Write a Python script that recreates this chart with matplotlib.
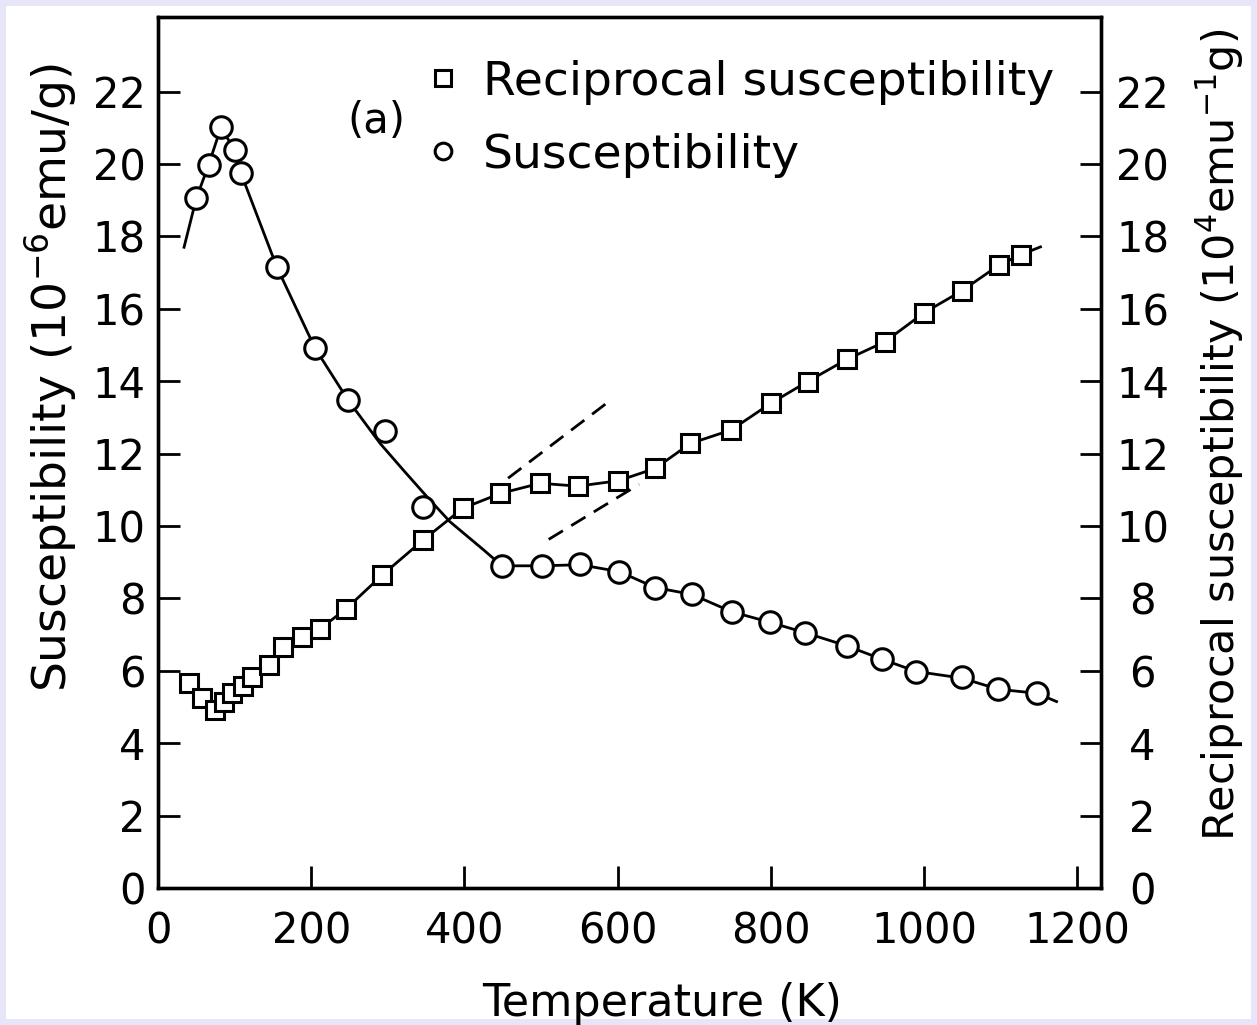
import matplotlib
matplotlib.use("Agg")
import matplotlib.pyplot as plt
from matplotlib.lines import Line2D
from matplotlib.patches import Rectangle

# ---- data ----
chi_T = [50, 66, 82, 100, 108, 155, 205, 248, 296, 346, 449, 501, 551, 602,
         649, 697, 749, 799, 845, 899, 945, 990, 1049, 1097, 1147]
chi_v = [19.05, 19.97, 21.03, 20.39, 19.76, 17.16, 14.91, 13.48, 12.63, 10.52,
         8.90, 8.90, 8.95, 8.74, 8.30, 8.11, 7.63, 7.34, 7.05, 6.69, 6.32, 5.98,
         5.82, 5.49, 5.40]

chi_curve_T = [34, 50, 66, 82, 100, 108, 155, 205, 248, 290, 320, 351, 381, 425,
               449, 501, 551, 602, 649, 697, 749, 799, 845, 899, 945, 990, 1049,
               1097, 1147, 1173]
chi_curve_v = [17.7, 19.05, 19.97, 21.0, 20.4, 19.76, 17.16, 14.91, 13.48, 12.28,
               11.55, 10.81, 10.12, 9.34, 8.90, 8.90, 8.93, 8.74, 8.30, 8.11, 7.63,
               7.34, 7.05, 6.69, 6.32, 5.98, 5.80, 5.49, 5.38, 5.15]

recip_T = [41, 57, 74, 86, 96, 111, 123, 145, 163, 188, 211, 246, 293, 346, 398,
           447, 499, 548, 601, 649, 695, 748, 800, 848, 899, 949, 1000, 1049,
           1098, 1126]
recip_v = [5.67, 5.24, 4.92, 5.15, 5.38, 5.58, 5.82, 6.16, 6.65, 6.94, 7.15, 7.72,
           8.65, 9.61, 10.49, 10.90, 11.18, 11.10, 11.25, 11.59, 12.28, 12.65,
           13.39, 13.99, 14.60, 15.09, 15.89, 16.49, 17.21, 17.49]

recip_curve_T = recip_T + [1152]
recip_curve_v = recip_v + [17.71]

dash1_T = [457, 588]
dash1_v = [11.32, 13.43]
dash2_T = [510, 628]
dash2_v = [9.63, 11.15]

x_ticks = [0, 200, 400, 600, 800, 1000, 1200]
y_ticks = [0, 2, 4, 6, 8, 10, 12, 14, 16, 18, 20, 22]

# ---- figure ----
W, H = 1257, 1025
fig = plt.figure(figsize=(W / 100, H / 100), dpi=100, facecolor="#e6e6f8")
fig.patches.append(Rectangle((6 / W, 6 / H), 1 - 12 / W, 1 - 12 / H,
                             transform=fig.transFigure, facecolor="white",
                             edgecolor="none", zorder=-10))

ax = fig.add_axes([158 / W, 1 - 888 / H, (1101 - 158) / W, (888 - 17) / H])
ax.set_facecolor("white")
ax2 = ax.twinx()

FS = 30
lw = 2.0
ms_c = 15.5
ms_s = 13
mew = 2.2

ax.plot(chi_curve_T, chi_curve_v, color="black", lw=lw, zorder=2)
ax.plot(chi_T, chi_v, linestyle="none", marker="o", ms=ms_c, mfc="white",
        mec="black", mew=mew, zorder=3)
ax.plot(dash1_T, dash1_v, color="black", lw=lw, linestyle=(0, (6, 3.5)))
ax.plot(dash2_T, dash2_v, color="black", lw=lw, linestyle=(0, (6, 3.5)))

ax2.plot(recip_curve_T, recip_curve_v, color="black", lw=lw, zorder=2)
ax2.plot(recip_T, recip_v, linestyle="none", marker="s", ms=ms_s, mfc="white",
         mec="black", mew=mew, zorder=3)

for a in (ax, ax2):
    a.set_xlim(0, 1231)
    a.set_ylim(0, 24.06)
    for s in a.spines.values():
        s.set_linewidth(2.4)

ax.set_xticks(x_ticks)
ax.set_yticks(y_ticks)
ax2.set_yticks(y_ticks)
ax.tick_params(axis="both", direction="in", length=16, width=2.0,
               labelsize=FS, pad=9)
ax.tick_params(axis="x", pad=16)
ax.tick_params(axis="y", right=False)
ax.tick_params(axis="x", top=False)
ax2.tick_params(axis="y", direction="in", length=15, width=2.0,
                labelsize=FS, pad=30)
for lab in ax2.get_yticklabels():
    lab.set_horizontalalignment("center")

ax.set_xlabel("Temperature (K)", fontsize=FS + 2)
ax.xaxis.set_label_coords(0.535, -0.108)
ax.set_ylabel(r"Susceptibility (10$^{-6}$emu/g)", fontsize=34)
ax.yaxis.set_label_coords(-0.084, 0.586)
ax2.set_ylabel(r"Reciprocal susceptibility (10$^{4}$emu$^{-1}$g)", fontsize=31)
ax2.yaxis.set_label_coords(1.099, 0.52)

ax.text(285, 21.2, "(a)", fontsize=FS, ha="center", va="center")

handles = [
    Line2D([], [], linestyle="none", marker="s", ms=11, mfc="white",
           mec="black", mew=mew),
    Line2D([], [], linestyle="none", marker="o", ms=12, mfc="white",
           mec="black", mew=mew),
]
ax.legend(handles, ["Reciprocal susceptibility", "Susceptibility"],
          loc="upper left", bbox_to_anchor=(0.287, 0.951), frameon=False,
          fontsize=34, handlelength=0.6, handletextpad=0.55,
          labelspacing=0.6, borderpad=0, borderaxespad=0)

fig.savefig("out.png", dpi=100, facecolor=fig.get_facecolor())
